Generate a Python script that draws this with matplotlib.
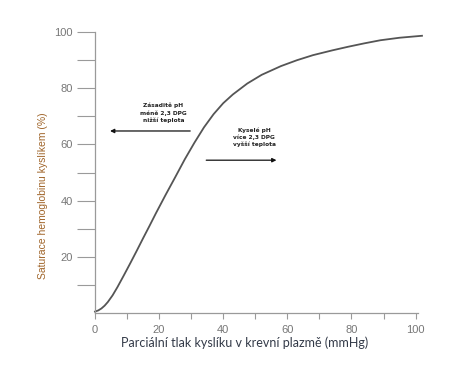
import matplotlib
matplotlib.use("Agg")
import matplotlib.pyplot as plt

# oxygen dissociation curve
po2 = [0, 1, 2, 3, 4, 5.5, 7, 9, 11, 13, 15, 17, 19, 22, 25, 28, 31, 34,
       37, 40, 43, 47.5, 52, 58, 63, 68, 74, 79, 84, 89, 95, 102]
saturation = [0.5, 0.9, 1.6, 2.6, 3.9, 6.3, 9.2, 13.4, 17.7, 22.1, 26.6, 31.0,
              35.5, 42, 48.3, 54.7, 60.6, 66.1, 70.8, 74.7, 77.8, 81.7, 84.8,
              87.9, 90, 91.8, 93.5, 94.8, 96, 97.1, 98, 98.7]

x_major = [0, 20, 40, 60, 80, 100]
x_minor = [10, 30, 50, 70, 90]
y_major = [20, 40, 60, 80, 100]
y_minor = [10, 30, 50, 70, 90]

left_text = "Zásaditě pH\nméně 2,3 DPG\nnižší teplota"
right_text = "Kyselé pH\nvíce 2,3 DPG\nvyšší teplota"
x_label = "Parciální tlak kyslíku v krevní plazmě (mmHg)"
y_label = "Saturace hemoglobinu kyslíkem (%)"

fig = plt.figure(figsize=(4.6, 3.65), dpi=100)
ax = fig.add_axes([0.2065, 0.1425, 0.7025, 0.7695])

ax.plot(po2, saturation, color="#555555", lw=1.3, clip_on=False,
        solid_joinstyle="round")

ax.set_xlim(0, 100.8)
ax.set_ylim(0, 100)

for s in ["top", "right"]:
    ax.spines[s].set_visible(False)
for s in ["left", "bottom"]:
    ax.spines[s].set_color("#9a9a9a")
    ax.spines[s].set_linewidth(0.9)

ax.set_xticks(x_major)
ax.set_xticks(x_minor, minor=True)
ax.set_yticks(y_major)
ax.set_yticks(y_minor, minor=True)

ax.tick_params(axis="x", which="both", direction="out", length=4, width=0.8,
               color="#9a9a9a", pad=5, labelsize=8, labelcolor="#777777")
ax.tick_params(axis="y", which="both", direction="out", length=13, width=0.8,
               color="#9a9a9a", pad=3, labelsize=8, labelcolor="#777777")
for lbl in ax.get_xticklabels() + ax.get_yticklabels():
    lbl.set_fontfamily("Liberation Sans")

ax.set_xlabel(x_label, fontsize=9, family="Lato", color="#333a48")
ax.xaxis.set_label_coords(0.464, -0.085)
ax.set_ylabel(y_label, fontsize=7.5, family="Liberation Sans", color="#a0652a")
ax.yaxis.set_label_coords(-0.145, 0.416)

ax.text(21.3, 71.2, left_text, ha="center", va="center", fontsize=4.2,
        fontweight="bold", color="#222222", linespacing=1.4)
ax.text(49.7, 62.6, right_text, ha="center", va="center", fontsize=4.2,
        fontweight="bold", color="#222222", linespacing=1.4)

arrow = dict(arrowstyle="-|>", color="#111111", lw=0.9, mutation_scale=6,
             shrinkA=0, shrinkB=0)
ax.annotate("", xy=(4.7, 64.8), xytext=(29.7, 64.8), arrowprops=arrow)
ax.annotate("", xy=(56.6, 54.4), xytext=(34.7, 54.4), arrowprops=arrow)

fig.savefig("out.png", dpi=100)
